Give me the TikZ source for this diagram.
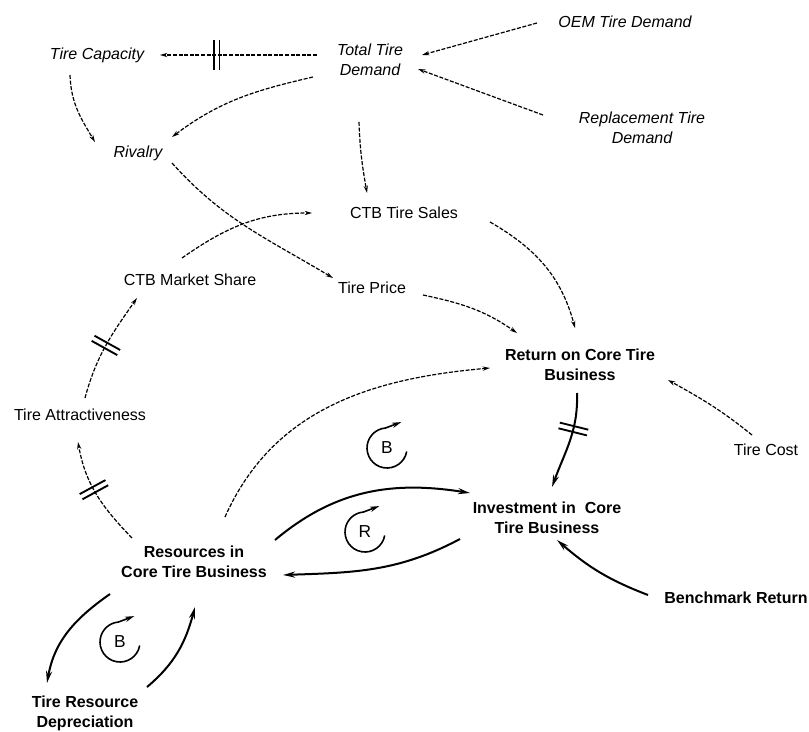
\documentclass[tikz,border=0pt]{standalone}
\usepackage{fontspec}
\setmainfont{Liberation Sans}
\usetikzlibrary{arrows.meta,decorations.markings}
\tikzset{
  lbl/.style={font=\fontsize{12}{15}\selectfont, align=center, inner sep=0pt},
  itl/.style={lbl, font=\fontsize{12}{15}\selectfont\itshape},
  bld/.style={lbl, font=\fontsize{12}{15}\selectfont\bfseries},
  dashlink/.style={draw, dash pattern=on 3pt off 1.2pt, line width=0.9pt, -{Stealth[length=5.5pt,width=3.2pt]}},
  boldlink/.style={draw, line width=1.5pt, -{Stealth[length=9pt,width=4.5pt]}},
  delaybars/.style={postaction={decorate,decoration={markings,mark=at position #1 with {\draw[solid,line width=1.4pt,-] (-2.2pt,-11pt)--(-2.2pt,11pt) (2.2pt,-11pt)--(2.2pt,11pt);}}}},
  loopline/.style={draw, line width=1.2pt, -{Stealth[length=7pt,width=4pt]}},
  looplabel/.style={font=\fontsize{13}{15}\selectfont, inner sep=0pt}
}
\begin{document}
\begin{tikzpicture}[x=0.75pt,y=0.75pt]
\useasboundingbox (0,0) rectangle (809,-731);
% nodes
\node[itl] (cap) at (97,-55) {Tire Capacity};
\node[itl] (ttd) at (370,-60) {Total Tire\\Demand};
\node[itl] (oem) at (625,-22) {OEM Tire Demand};
\node[itl] (rep) at (642,-128) {Replacement Tire\\Demand};
\node[itl] (riv) at (138,-153) {Rivalry};
\node[lbl] (sales) at (404,-213) {CTB Tire Sales};
\node[lbl] (share) at (190,-280) {CTB Market Share};
\node[lbl] (price) at (372,-288) {Tire Price};
\node[bld] (ret) at (580,-365) {Return on Core Tire\\Business};
\node[lbl] (attr) at (80,-415) {Tire Attractiveness};
\node[lbl] (cost) at (766,-450) {Tire Cost};
\node[bld] (inv) at (547,-518) {Investment in\ \ Core\\Tire Business};
\node[bld] (res) at (194,-562) {Resources in\\Core Tire Business};
\node[bld] (bench) at (736,-598) {Benchmark Return};
\node[bld] (dep) at (85,-713) {Tire Resource\\Depreciation};
% loop markers
\node[looplabel] (loopB1) at (387,-448) {B};
\node[looplabel] (loopR) at (365,-532) {R};
\node[looplabel] (loopB2) at (120,-642) {B};
\foreach \n in {loopB1,loopR,loopB2}{
  \draw[loopline] ([shift={(-10:15pt)}]\n.center) arc[start angle=-10,end angle=-265,radius=15pt] -- ++(12pt,4.5pt);
}
% dashed connectors
\draw[dashlink, delaybars=0.64] ([shift={(-53,5)}]ttd.center) -- ([shift={(63,0)}]cap.center);
\draw[dashlink] ([shift={(-88,-1)}]oem.center) -- ([shift={(52,5)}]ttd.center);
\draw[dashlink] ([shift={(-99,13)}]rep.center) -- ([shift={(48,-9)}]ttd.center);
\draw[dashlink] ([shift={(-57,-17)}]ttd.center) to[out=193,in=37] ([shift={(34,16)}]riv.center);
\draw[dashlink] ([shift={(-27,-20)}]cap.center) to[out=272,in=121] ([shift={(-43,11)}]riv.center);
\draw[dashlink] ([shift={(34,-10)}]riv.center) to[out=-48,in=149] ([shift={(-39,10)}]price.center);
\draw[dashlink] ([shift={(-11,-62)}]ttd.center) to[out=-88,in=100] ([shift={(-37,20)}]sales.center);
\draw[dashlink] ([shift={(-8,22)}]share.center) to[out=35,in=180] ([shift={(-92,0)}]sales.center);
\draw[dashlink] ([shift={(86,-9)}]sales.center) to[out=-30,in=105] ([shift={(-5,37)}]ret.center);
\draw[dashlink] ([shift={(51,-7)}]price.center) to[out=-12,in=145] ([shift={(-63,32)}]ret.center);
\draw[dashlink] ([shift={(-14,15)}]cost.center) to[out=141,in=-29] ([shift={(88,-15)}]ret.center);
\draw[dashlink] ([shift={(31,45)}]res.center) to[out=66,in=185] ([shift={(-90,-3)}]ret.center);
\draw[dashlink, delaybars=0.55] ([shift={(-62,24)}]res.center) to[out=134,in=-80] ([shift={(-2,-27)}]attr.center);
\draw[dashlink, delaybars=0.5] ([shift={(5,17)}]attr.center) to[out=75,in=235] ([shift={(-53,-18)}]share.center);
% bold connectors
\draw[boldlink, delaybars=0.37] ([shift={(-3,-28)}]ret.center) to[out=-88,in=70] ([shift={(5,31)}]inv.center);
\draw[boldlink] ([shift={(81,22)}]res.center) to[out=40,in=171] ([shift={(-77,25)}]inv.center);
\draw[boldlink] ([shift={(-87,-21)}]inv.center) to[out=208,in=2] ([shift={(89,-13)}]res.center);
\draw[boldlink] ([shift={(-88,3)}]bench.center) to[out=159,in=-41] ([shift={(10,-22)}]inv.center);
\draw[boldlink] ([shift={(-84,-32)}]res.center) to[out=215,in=80] ([shift={(-38,30)}]dep.center);
\draw[boldlink] ([shift={(62,26)}]dep.center) to[out=40,in=255] ([shift={(1,-45)}]res.center);
\end{tikzpicture}
\end{document}
